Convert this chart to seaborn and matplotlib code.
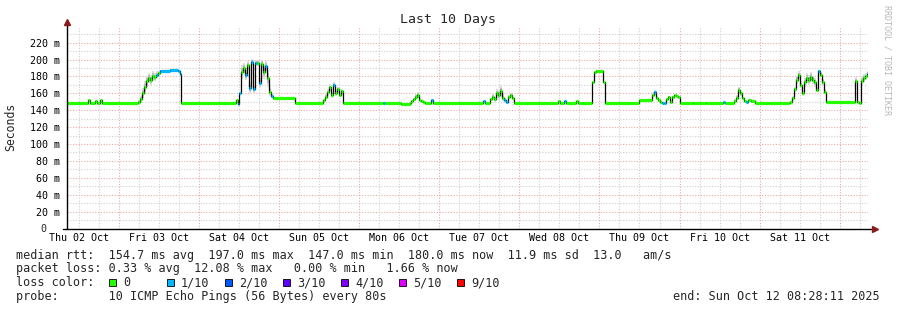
import numpy as np
import pandas as pd
import seaborn as sns
import matplotlib
matplotlib.use("Agg")
import matplotlib.pyplot as plt
from matplotlib.patches import Rectangle

# ---------------- data ----------------
# hours since start (Thu Oct 02 08:28:11), median rtt in ms, loss class, smoke spread in ms
hours = [0.0, 6.3, 6.9, 8.4, 9.0, 9.9, 10.5, 21.3, 21.9, 22.5, 23.1, 23.7, 24.3, 24.9, 25.5,
         26.1, 26.7, 27.3, 27.9, 30.9, 33.3, 33.9, 34.2, 50.7, 51.3, 51.6, 52.2, 52.8, 53.4,
         54.0, 54.6, 55.2, 55.8, 56.4, 57.0, 57.6, 58.2, 58.8, 59.4, 60.0, 60.6, 61.2, 61.8,
         68.4, 76.8, 77.4, 78.0, 78.6, 79.2, 79.8, 80.4, 81.0, 81.6, 82.2, 82.8, 94.8, 95.4,
         100.2, 102.9, 103.2, 103.8, 104.4, 105.0, 105.6, 106.2, 106.8, 107.4, 109.2, 109.8,
         124.5, 125.1, 126.6, 127.2, 127.8, 128.4, 129.0, 129.6, 130.2, 130.8, 131.4, 132.0,
         132.6, 133.2, 133.8, 147.0, 147.6, 148.8, 149.4, 152.4, 153.0, 157.2, 157.8, 158.4,
         160.5, 161.1, 171.3, 175.2, 175.8, 176.4, 177.0, 177.6, 178.2, 178.8, 179.4, 180.0,
         180.6, 181.2, 181.8, 182.4, 183.0, 183.6, 187.5, 191.4, 196.5, 197.1, 199.8, 200.4,
         201.0, 201.6, 202.2, 202.8, 203.4, 204.0, 204.9, 206.1, 210.3, 216.3, 216.6, 217.2,
         217.8, 218.4, 219.0, 219.6, 220.2, 220.8, 221.4, 222.0, 222.6, 223.2, 223.8, 224.4,
         225.0, 225.6, 226.2, 226.8, 227.4, 236.1, 236.7, 237.3, 237.9, 238.5, 239.1, 239.7,
         240.0]
rtt = [149, 152, 149, 151, 149, 152, 149, 150, 153, 160, 167, 174, 178, 176, 181,
       179, 182, 184, 187, 188, 186, 183, 149, 152, 147, 160, 185, 190, 182,
       193, 166, 197, 165, 196, 196, 172, 195, 185, 192, 178, 162, 157, 155,
       149, 152, 156, 161, 167, 158, 170, 160, 165, 158, 163, 149, 148, 149,
       147.5, 149, 151, 153, 156, 158, 152, 151, 150, 149, 152, 149,
       151, 149, 153, 156, 153, 160, 158, 163, 155, 152, 150, 156,
       158, 155, 149, 151, 149, 151, 149, 151, 149, 173, 185, 187,
       173, 149, 152, 158, 161, 155, 152, 150, 149, 148, 153, 156,
       150, 156, 158, 157, 156, 149, 148, 149, 150, 149, 151, 155,
       164, 160, 154, 151, 150, 152, 151, 149, 148, 149, 150, 155,
       165, 176, 182, 170, 160, 173, 178, 176, 179, 176, 173, 164,
       186, 182, 173, 162, 150, 175, 150, 148, 175, 178, 180, 183,
       183]
loss = [0, 0, 0, 0, 0, 0, 0, 0, 0, 0, 0, 0, 0, 0, 0,
        0, 1, 0, 1, 1, 1, 1, 0, 0, 1, 1, 0, 0, 1,
        0, 1, 1, 1, 1, 0, 1, 0, 0, 1, 0, 0, 1, 0,
        0, 0, 0, 0, 0, 0, 1, 0, 0, 0, 0, 0, 1, 0,
        0, 0, 0, 0, 0, 0, 0, 0, 0, 0, 1, 0,
        1, 0, 0, 0, 0, 0, 0, 0, 0, 1, 1, 0,
        0, 0, 0, 0, 0, 1, 0, 0, 0, 0, 0, 0,
        0, 0, 0, 0, 1, 0, 0, 0, 1, 1, 0, 0,
        0, 0, 0, 0, 0, 0, 0, 0, 1, 0, 0, 0,
        0, 0, 0, 0, 1, 0, 0, 0, 0, 0, 0, 0,
        0, 0, 0, 0, 0, 0, 0, 0, 0, 0, 0, 0,
        1, 0, 0, 0, 0, 0, 0, 0, 0, 0, 0, 1,
        1]
spread = [0, 0, 0, 0, 0, 0, 0, 2, 4, 6, 7, 7, 6, 6, 5,
          5, 4, 3, 1, 1, 1, 2, 0, 0, 0, 1, 8, 6, 6,
          5, 6, 4, 5, 4, 4, 6, 5, 8, 6, 10, 5, 2, 0,
          0, 0, 3, 4, 4, 3, 3, 3, 3, 2, 2, 0, 0, 0,
          0, 0, 1, 2, 3, 4, 2, 1, 0, 0, 0, 0,
          0, 0, 2, 3, 3, 5, 6, 7, 4, 2, 1, 2,
          2, 1, 0, 0, 0, 0, 0, 0, 0, 1, 1, 1,
          1, 0, 0, 3, 3, 2, 1, 0, 0, 0, 1, 1,
          1, 1, 1, 1, 1, 0, 0, 0, 0, 0, 2, 3,
          4, 3, 2, 1, 0, 1, 1, 0, 0, 0, 1, 2,
          3, 5, 4, 4, 3, 5, 6, 6, 6, 5, 5, 3,
          2, 3, 4, 3, 1, 4, 1, 0, 4, 5, 4, 3,
          3]

loss_labels = ["0", "1/10", "2/10", "3/10", "4/10", "5/10", "9/10"]
loss_colors = ["#26ff00", "#00b8ff", "#0059ff", "#5e00ff", "#7e00ff", "#dd00ff", "#ff0000"]

day_labels = ["Thu 02 Oct", "Fri 03 Oct", "Sat 04 Oct", "Sun 05 Oct", "Mon 06 Oct",
              "Tue 07 Oct", "Wed 08 Oct", "Thu 09 Oct", "Fri 10 Oct", "Sat 11 Oct"]
start_hour_of_day = 8 + 28 / 60 + 11 / 3600
y_ticks = [0, 20, 40, 60, 80, 100, 120, 140, 160, 180, 200, 220]

line_rtt = "median rtt:  154.7 ms avg  197.0 ms max  147.0 ms min  180.0 ms now  11.9 ms sd  13.0   am/s"
line_loss = "packet loss: 0.33 % avg  12.08 % max   0.00 % min   1.66 % now"
line_probe = "probe:       10 ICMP Echo Pings (56 Bytes) every 80s"
line_end = "end: Sun Oct 12 08:28:11 2025"

# ---------------- plotting ----------------
sns.set_theme(style="white")
mono = "DejaVu Sans Mono"
plt.rcParams["font.family"] = [mono, "DejaVu Sans"]

W, H = 897, 310
fig = plt.figure(figsize=(W / 100, H / 100), dpi=100)
fig.patch.set_facecolor("white")
ax = fig.add_axes([67 / W, (H - 228.5) / H, (868 - 67) / W, (228.5 - 27) / H])
ax.set_facecolor("white")
XMAX, YMAX = 240, 238.5
ax.set_xlim(0, XMAX)
ax.set_ylim(0, YMAX)

df = pd.DataFrame({"hours": hours, "rtt": rtt, "loss": loss, "spread": spread})
h = df["hours"].to_numpy()
r = df["rtt"].to_numpy(dtype=float)
s = df["spread"].to_numpy(dtype=float)

# grid
for v in range(10, 240, 10):
    col = "#eaa8a8" if v % 20 == 0 else "#cfcfcf"
    ax.axhline(v, color=col, lw=0.8, ls=(0, (1, 1.5)), zorder=0)
k = 0
while True:
    t = -start_hour_of_day + 6 * k
    k += 1
    if t <= 0:
        continue
    if t >= XMAX:
        break
    is_day = abs(((t + start_hour_of_day) % 24)) < 1e-6
    col = "#eaa8a8" if is_day else "#cfcfcf"
    ax.axvline(t, color=col, lw=0.8, ls=(0, (1, 1.5)), zorder=0)

# smoke
ax.fill_between(h, r - s, r + s, step="post", color="#dedede", lw=0, zorder=1)
ax.fill_between(h, r - s * 0.55, r + s * 0.55, step="post", color="#bdbdbd", lw=0, zorder=1)
ax.fill_between(h, r - s * 0.25, r + s * 0.25, step="post", color="#969696", lw=0, zorder=1)

# median line (black step) + loss-coloured segments
sns.lineplot(data=df, x="hours", y="rtt", drawstyle="steps-post", color="black",
             linewidth=0.9, ax=ax, estimator=None, sort=False, legend=False, zorder=2)
seg_cols = [loss_colors[l] for l in loss[:-1]]
ax.hlines(r[:-1], h[:-1], h[1:], colors=seg_cols, linewidth=2.3, zorder=3)

# axes
for sp in ["top", "right", "left", "bottom"]:
    ax.spines[sp].set_visible(False)
ax.plot([0, 0], [0, 243], color="black", lw=1.0, clip_on=False, zorder=4)
ax.plot([-1.2, 241.0], [0, 0], color="black", lw=1.0, clip_on=False, zorder=4)
ax.plot([0], [244.5], marker="^", color="#8b1a1a", ms=4, clip_on=False, zorder=5)
ax.plot([242.0], [0], marker=">", color="#8b1a1a", ms=4, clip_on=False, zorder=5)

ax.set_yticks(y_ticks)
ax.set_yticklabels([f"{v} m" if v else "" for v in y_ticks])
noon = [12 - start_hour_of_day + 24 * i for i in range(len(day_labels))]
ax.set_xticks(noon)
ax.set_xticklabels(day_labels)
ax.tick_params(axis="both", length=0, labelsize=7.2, colors="black")
ax.tick_params(axis="y", pad=5)
ax.tick_params(axis="x", pad=3)
ax.set_xlabel("")
ax.set_ylabel("")
ax.grid(False)

fx = lambda x: x / W
fy = lambda y: 1 - y / H

# zero label sits in the digit column of the other labels
fig.text(fx(46), fy(228.5), "0", ha="right", va="center", fontsize=7.2, family=mono)

fig.text(fx(448), fy(19), "Last 10 Days", ha="center", va="center", fontsize=9.5, family=mono)
fig.text(fx(11), fy(127), "Seconds", ha="center", va="center", rotation=90, fontsize=8.3,
         family=mono)
fig.text(fx(887), fy(5), "RRDTOOL / TOBI OETIKER", ha="center", va="top", rotation=-90,
         fontsize=6, color="#b8b8b8", family=mono)

fs = 8.45
fig.text(fx(16), fy(255), line_rtt, va="center", fontsize=fs, family=mono)
fig.text(fx(16), fy(268.5), line_loss, va="center", fontsize=fs, family=mono)
fig.text(fx(16), fy(282.5), "loss color:", va="center", fontsize=fs, family=mono)
for i, (lab, col) in enumerate(zip(loss_labels, loss_colors)):
    bx = 108.5 + 58 * i
    fig.patches.append(Rectangle((fx(bx), fy(286)), 7 / W, 7.5 / H, transform=fig.transFigure,
                                 facecolor=col, edgecolor="black", lw=0.6))
    fig.text(fx(bx + 14.5), fy(282.5), lab, va="center", fontsize=fs, family=mono)
fig.text(fx(16), fy(296.5), line_probe, va="center", fontsize=fs, family=mono)
fig.text(fx(880), fy(296.5), line_end, ha="right", va="center", fontsize=fs, family=mono)

fig.savefig("out.png", dpi=100, facecolor="white")
